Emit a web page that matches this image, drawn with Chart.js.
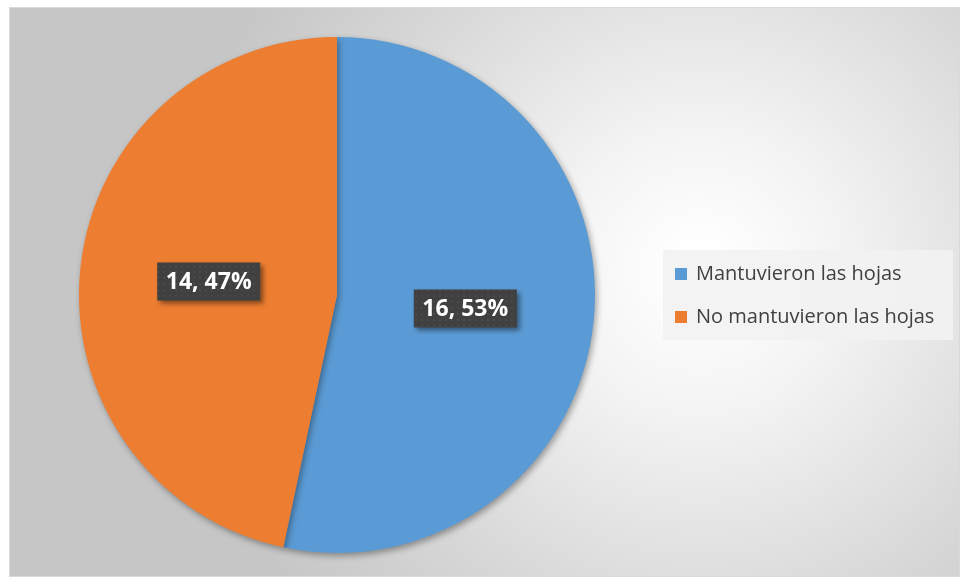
<!DOCTYPE html>
<html>
<head>
<meta charset="utf-8">
<script src="https://cdn.jsdelivr.net/npm/chart.js@4"></script>
<style>
  html, body { margin: 0; padding: 0; background: #fff; }
  #wrap { width: 961px; height: 579px; position: relative; }
</style>
</head>
<body>
<div id="wrap"><canvas id="grafico"></canvas></div>
<script>
const categorias = ['Mantuvieron las hojas', 'No mantuvieron las hojas'];
const valores = [16, 14];
const porcentajes = ['53%', '47%'];
const colores = ['#5b9bd5', '#ed7d31'];

// fondo del área del gráfico: degradado radial gris con marco
const fondo = {
  id: 'fondo',
  beforeDraw(chart) {
    const c = chart.ctx;
    c.save();
    c.fillStyle = '#ffffff';
    c.fillRect(0, 0, chart.width, chart.height);
    const g = c.createRadialGradient(700, 270, 20, 700, 270, 520);
    g.addColorStop(0, '#ffffff');
    g.addColorStop(0.25, '#f3f3f3');
    g.addColorStop(0.7, '#d6d6d6');
    g.addColorStop(1, '#c6c6c6');
    c.fillStyle = g;
    c.fillRect(9, 7, 951, 570);
    c.strokeStyle = '#d9d9d9';
    c.lineWidth = 1;
    c.strokeRect(9.5, 7.5, 950, 569);
    c.restore();
  },
  beforeDatasetsDraw(chart) {
    const c = chart.ctx;
    c.save();
    c.shadowColor = 'rgba(0,0,0,0.35)';
    c.shadowBlur = 6;
    c.shadowOffsetX = 2;
    c.shadowOffsetY = 3;
  },
  afterDatasetsDraw(chart) {
    chart.ctx.restore();
  }
};

// etiquetas de valor en recuadros oscuros con trama de puntos
function trama(c) {
  const p = document.createElement('canvas');
  p.width = 6; p.height = 6;
  const pc = p.getContext('2d');
  pc.fillStyle = '#404040';
  pc.fillRect(0, 0, 6, 6);
  pc.fillStyle = '#4a4a4a';
  pc.fillRect(1, 1, 2, 2);
  return c.createPattern(p, 'repeat');
}

const etiquetas = {
  id: 'etiquetas',
  afterDatasetsDraw(chart) {
    const c = chart.ctx;
    const meta = chart.getDatasetMeta(0);
    c.save();
    c.font = 'bold 23px "Open Sans", sans-serif';
    c.textAlign = 'center';
    c.textBaseline = 'middle';
    meta.data.forEach((arc, i) => {
      const pos = arc.tooltipPosition();
      const txt = valores[i] + ', ' + porcentajes[i];
      const w = 103, h = 38;
      const x = pos.x - w / 2, y = pos.y - h / 2;
      c.save();
      c.shadowColor = 'rgba(0,0,0,0.45)';
      c.shadowBlur = 5;
      c.shadowOffsetX = 3;
      c.shadowOffsetY = 3;
      c.fillStyle = trama(c);
      c.fillRect(x, y, w, h);
      c.restore();
      c.fillStyle = '#ffffff';
      c.fillText(txt, pos.x, pos.y + 1);
    });
    c.restore();
  }
};

// leyenda a la derecha con recuadro claro
const leyenda = {
  id: 'leyenda',
  afterDraw(chart) {
    const c = chart.ctx;
    c.save();
    c.fillStyle = 'rgba(242,242,242,0.9)';
    c.fillRect(663, 250, 290, 90);
    c.font = '20px "Open Sans", sans-serif';
    c.textBaseline = 'middle';
    categorias.forEach((cat, i) => {
      const y = 274 + i * 43;
      c.fillStyle = colores[i];
      c.fillRect(675, y - 6, 12, 12);
      c.fillStyle = '#404040';
      c.fillText(cat, 696, y);
    });
    c.restore();
  }
};

new Chart(document.getElementById('grafico'), {
  type: 'pie',
  data: {
    labels: categorias,
    datasets: [{
      data: valores,
      backgroundColor: colores,
      borderWidth: 0
    }]
  },
  options: {
    responsive: true,
    maintainAspectRatio: false,
    animation: false,
    layout: { padding: { left: 79, right: 366, top: 37, bottom: 26 } },
    plugins: {
      legend: { display: false },
      tooltip: { enabled: false }
    }
  },
  plugins: [fondo, etiquetas, leyenda]
});
</script>
</body>
</html>
